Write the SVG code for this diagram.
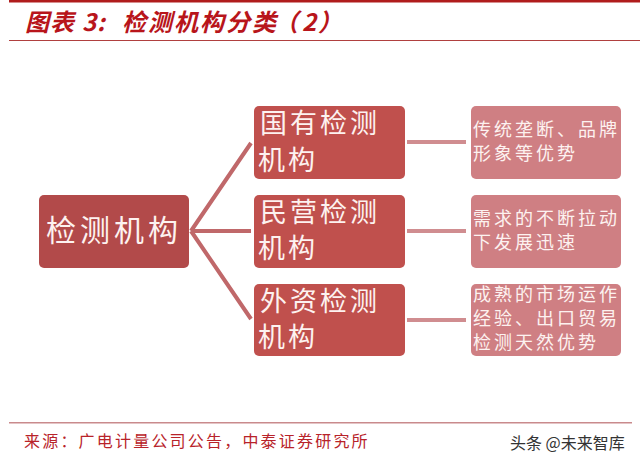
<svg xmlns="http://www.w3.org/2000/svg" width="640" height="467" viewBox="0 0 640 467">
<style>
text{font-family:"Noto Sans CJK SC","Liberation Serif",serif}
.cj{stroke-width:4;fill:none}
.a{fill:#c0504d}.b{fill:#cf7f83}
.m{fill:#fdf2f0;font-size:27px;letter-spacing:3px}
.s{fill:#fdf2f0;font-size:18px;letter-spacing:3px}
.t{font-size:24px;font-weight:700;font-style:italic;fill:#b8151b}
</style>
<rect width="640" height="467" fill="#fff"/>
<rect x="9" y="0" width="631" height="2.5" fill="#b01c1c"/>
<rect x="9" y="40" width="631" height="1" fill="#b0403f"/>
<text class="t" x="25 50 82 97 122 148 174 200 226 252 274 302 318" y="31">图表3:检测机构分类（2）</text>
<g id="connectors" class="cj">
<path d="M191 231L251 143M191 231H251M191 231L251 319" stroke="#c0686a"/>
<path d="M407 142H466M407 231H466M407 320H466" stroke="#d08d90"/>
</g>
<g id="root"><rect x="39" y="195" width="150" height="73" rx="5" fill="#b24a4a"/><text x="46" y="241" font-size="30" fill="#fdf2f0" style="letter-spacing:4px">检测机构</text></g>
<g id="n1"><rect class="a" x="254" y="106" width="151" height="73" rx="5"/><text class="m"><tspan x="260" y="133">国有检测</tspan><tspan x="258" y="170">机构</tspan></text></g>
<g id="n2"><rect class="a" x="254" y="195" width="151" height="73" rx="5"/><text class="m"><tspan x="260" y="222">民营检测</tspan><tspan x="258" y="258">机构</tspan></text></g>
<g id="n3"><rect class="a" x="254" y="284" width="151" height="72" rx="5"/><text class="m"><tspan x="260" y="311">外资检测</tspan><tspan x="258" y="347">机构</tspan></text></g>
<g id="d1"><rect class="b" x="471" y="106" width="150" height="73" rx="5"/><text class="s"><tspan x="473" y="136">传统垄断、品牌</tspan><tspan x="473" y="160">形象等优势</tspan></text></g>
<g id="d2"><rect class="b" x="471" y="195" width="150" height="73" rx="5"/><text class="s"><tspan x="473" y="225">需求的不断拉动</tspan><tspan x="473" y="249">下发展迅速</tspan></text></g>
<g id="d3"><rect class="b" x="471" y="284" width="150" height="72" rx="5"/><text class="s"><tspan x="473" y="301">成熟的市场运作</tspan><tspan x="473" y="325">经验、出口贸易</tspan><tspan x="473" y="349">检测天然优势</tspan></text></g>
<rect x="9" y="422" width="623" height="1.5" fill="#c98a8c"/>
<text x="24" y="447" font-size="16" fill="#b8232a" style="letter-spacing:2.2px">来源：广电计量公司公告，中泰证券研究所</text>
<text x="510" y="449" font-size="16" fill="#333">头条 @未来智库</text>
</svg>
